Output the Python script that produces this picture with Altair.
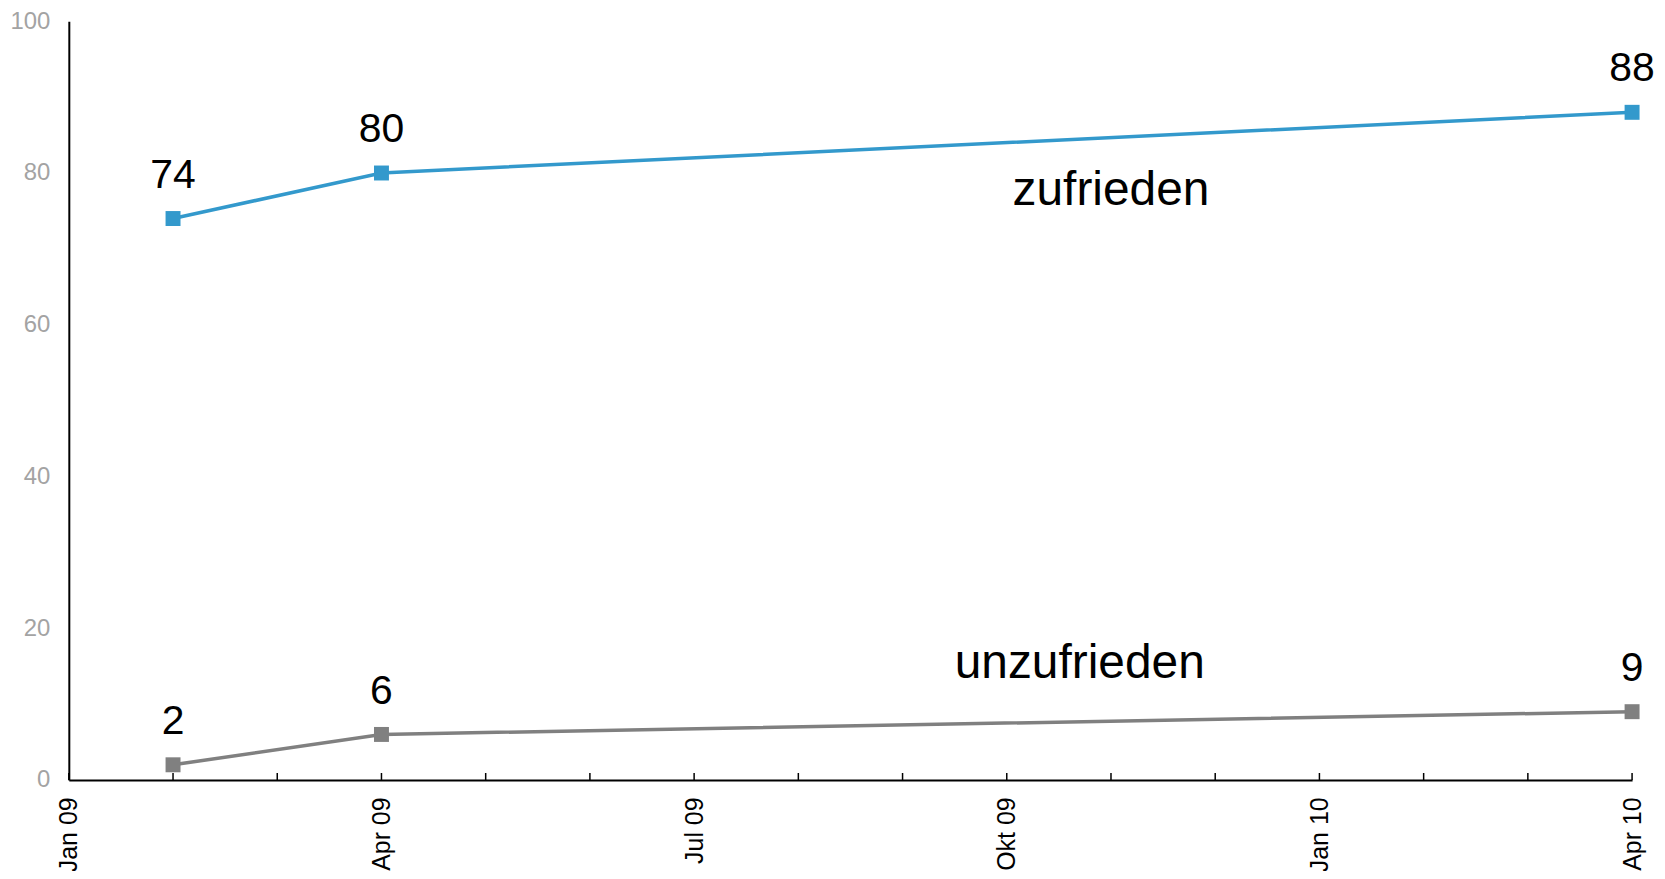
import altair as alt
import pandas as pd

# ---- data ----
dates = ["2009-02-01", "2009-04-01", "2010-04-01"]
zufrieden = [74, 80, 88]
unzufrieden = [2, 6, 9]
series_names = ["zufrieden", "unzufrieden"]
series_colors = ["#3399cc", "#808080"]

# series name annotations (date, value)
label_dates = ["2009-11-01", "2009-10-22"]
label_values = [75.8, 13.4]

month_ticks = [
    "2009-01-01", "2009-02-01", "2009-03-01", "2009-04-01", "2009-05-01",
    "2009-06-01", "2009-07-01", "2009-08-01", "2009-09-01", "2009-10-01",
    "2009-11-01", "2009-12-01", "2010-01-01", "2010-02-01", "2010-03-01",
    "2010-04-01",
]
quarter_ticks = ["2009-01", "2009-04", "2009-07", "2009-10", "2010-01", "2010-04"]
quarter_labels = ["Jan 09", "Apr 09", "Jul 09", "Okt 09", "Jan 10", "Apr 10"]
y_ticks = [0, 20, 40, 60, 80, 100]

FONT = "Liberation Sans"
W, H = 1568, 761

rows = []
for name, vals in zip(series_names, [zufrieden, unzufrieden]):
    for d, v in zip(dates, vals):
        rows.append({"date": d, "value": v, "series": name})
df = pd.DataFrame(rows)

lab_df = pd.DataFrame({"date": label_dates, "value": label_values, "series": series_names})
tick_df = pd.DataFrame({"date": month_ticks})

# equal-width months (Excel-style date axis with month base unit)
MI = ("(utcyear(toDate(datum.date)) - 2009) * 12 + utcmonth(toDate(datum.date))"
      " + (utcdate(toDate(datum.date)) - 1) / 30")


def q_index(s):
    y, m = s.split("-")
    return (int(y) - 2009) * 12 + int(m) - 1


q_vals = [q_index(q) for q in quarter_ticks]
label_arr = "[" + ",".join(f"'{l}'" for l in quarter_labels) + "]"

x_scale = alt.Scale(domain=[q_vals[0], q_vals[-1]], nice=False, zero=False)
y_scale = alt.Scale(domain=[0, 100])

x_axis = alt.Axis(
    values=q_vals,
    labelExpr=f"{label_arr}[round(datum.value / 3)]",
    title=None, grid=False, ticks=False,
    labelAngle=-90, labelAlign="right", labelBaseline="middle",
    labelPadding=17, labelFontSize=25, labelColor="black", labelFont=FONT,
    domainColor="black", domainWidth=2, labelFlush=False, labelOverlap=False,
)
y_axis = alt.Axis(
    values=y_ticks, title=None, grid=False, ticks=False,
    labelPadding=19, labelFontSize=24, labelColor="#a3a3a3", labelFont=FONT,
    domainColor="black", domainWidth=2,
)

color = alt.Color("series:N", scale=alt.Scale(domain=series_names, range=series_colors), legend=None)

base = alt.Chart(df).transform_calculate(mi=MI).encode(
    x=alt.X("mi:Q", scale=x_scale, axis=x_axis),
    y=alt.Y("value:Q", scale=y_scale, axis=y_axis),
    color=color,
)

lines = base.mark_line(strokeWidth=3.5)
points = base.mark_point(shape="square", filled=True, size=225, opacity=1)
nums = base.mark_text(dy=-31, baseline="alphabetic", align="center", fontSize=41, font=FONT).encode(
    text="value:Q", color=alt.value("black")
)

names = alt.Chart(lab_df).transform_calculate(mi=MI).mark_text(
    baseline="alphabetic", align="center", fontSize=48, font=FONT
).encode(
    x=alt.X("mi:Q", scale=x_scale),
    y=alt.Y("value:Q", scale=y_scale),
    text="series:N",
    color=alt.value("black"),
)

ticks = alt.Chart(tick_df).transform_calculate(mi=MI).mark_rule(color="black", strokeWidth=1.5).encode(
    x=alt.X("mi:Q", scale=x_scale),
    y=alt.value(H),
    y2=alt.value(H - 7),
)

chart = alt.layer(ticks, lines, points, nums, names).properties(
    width=W, height=H,
    autosize=alt.AutoSizeParams(type="none"),
    padding={"left": 61, "top": 12, "right": 25, "bottom": 90},
).configure_view(stroke=None)

chart.save("out.html", embed_options={"renderer": "svg", "actions": False})
